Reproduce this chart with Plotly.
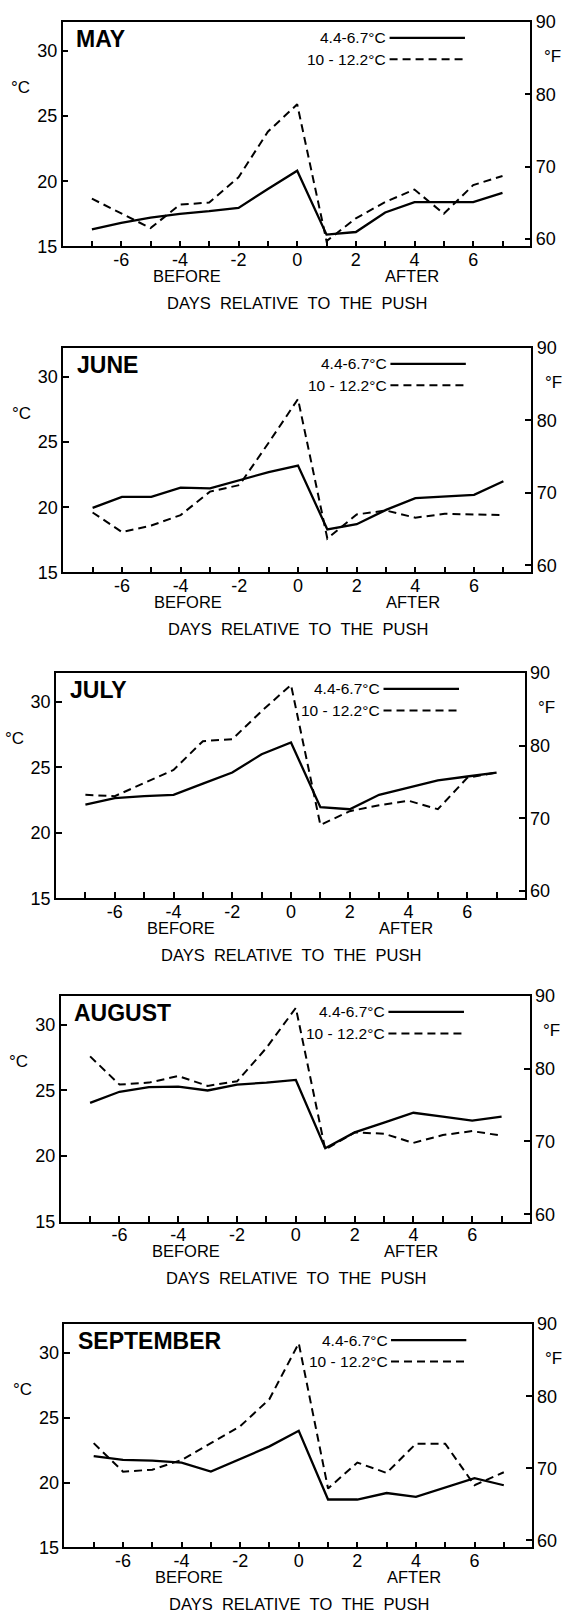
import plotly.graph_objects as go

# ---------------- data ----------------
DAYS = list(range(-7, 8))
MONTHS = ["MAY", "JUNE", "JULY", "AUGUST", "SEPTEMBER"]

MAY_COLD = [16.3, 16.8, 17.2, 17.5, 17.7, 17.95, 19.4, 20.8, 15.9, 16.1, 17.6, 18.4, 18.4, 18.4, 19.1]
MAY_WARM = [18.66, 17.5, 16.4, 18.2, 18.36, 20.3, 23.8, 25.9, 15.4, 17.15, 18.4, 19.36, 17.5, 19.7, 20.4]

JUNE_COLD = [19.95, 20.8, 20.8, 21.5, 21.45, 22.1, 22.7, 23.2, 18.3, 18.7, 19.8, 20.7, 20.8, 20.95, 22.0]
JUNE_WARM = [19.6, 18.1, 18.6, 19.4, 21.2, 21.7, 24.95, 28.3, 17.6, 19.45, 19.75, 19.2, 19.5, 19.45, 19.4]

JULY_COLD = [22.15, 22.65, 22.8, 22.9, 23.75, 24.6, 26.0, 26.9, 21.95, 21.8, 22.9, 23.45, 24.0, 24.3, 24.6]
JULY_WARM = [22.9, 22.8, 23.8, 24.8, 27.0, 27.15, 29.3, 31.3, 20.6, 21.65, 22.1, 22.45, 21.8, 24.2, 24.6]

AUG_COLD = [24.05, 24.9, 25.25, 25.3, 25.0, 25.45, 25.6, 25.8, 20.6, 21.8, 22.55, 23.3, 23.0, 22.7, 23.0]
AUG_WARM = [27.6, 25.45, 25.6, 26.1, 25.35, 25.7, 28.25, 31.3, 20.5, 21.8, 21.7, 21.0, 21.6, 21.9, 21.55]

SEP_COLD = [22.05, 21.75, 21.7, 21.55, 20.85, 21.85, 22.8, 24.0, 18.7, 18.7, 19.2, 18.9, 19.65, 20.35, 19.8]
SEP_WARM = [23.05, 20.85, 21.0, 21.75, 23.05, 24.35, 26.45, 30.75, 19.55, 21.55, 20.75, 23.0, 23.0, 19.8, 20.8]

COLD = [MAY_COLD, JUNE_COLD, JULY_COLD, AUG_COLD, SEP_COLD]
WARM = [MAY_WARM, JUNE_WARM, JULY_WARM, AUG_WARM, SEP_WARM]

LEGEND_COLD = "4.4-6.7°C"
LEGEND_WARM = "10 - 12.2°C"

C_TICKS = [15, 20, 25, 30]
F_TICKS = [60, 70, 80, 90]
X_TICKS = [-6, -4, -2, 0, 2, 4, 6]
X_TICK_TEXT = ["-6", "-4", "-2", "0", "2", "4", "6"]
X_MINOR = [-7, -5, -3, -1, 1, 3, 5, 7]

# ---------------- layout constants (pixels) ----------------
W, H = 565, 1621
# (px of day -7, px of day 7, frame top px, frame bottom px)
FRAMES = [
    (91.9, 502.5, 12.0, 239.3),
    (92.6, 503.4, 342.0, 569.5),
    (85.4, 496.6, 671.0, 899.3),
    (90.1, 501.6, 998.0, 1226.7),
    (93.7, 503.8, 1330.5, 1556.7),
]
C_RANGE = [15, 32.23]
F_RANGE = [c * 1.8 + 32 for c in C_RANGE]
X_RANGE = [-8, 7.95]
FONT = "Liberation Sans"

fig = go.Figure()
layout = dict(
    width=W, height=H, margin=dict(l=0, r=0, t=0, b=0),
    paper_bgcolor="white", plot_bgcolor="white", showlegend=False,
    font=dict(family=FONT, color="black", size=18),
    hovermode=False,
)
annotations = []
shapes = []

for i, (xm7, x7, ytop, ybot) in enumerate(FRAMES):
    n = i + 1
    xn = "x" if n == 1 else f"x{n}"
    yl = "y" if n == 1 else f"y{n}"
    yr = f"y{n + 5}"
    ppd = (x7 - xm7) / 14.0
    xl_px = xm7 + (X_RANGE[0] + 7) * ppd
    xr_px = x7 + (X_RANGE[1] - 7) * ppd

    layout["xaxis" if n == 1 else f"xaxis{n}"] = dict(
        domain=[xl_px / W, xr_px / W], range=X_RANGE, anchor=yl,
        tickmode="array", tickvals=X_TICKS, ticktext=X_TICK_TEXT,
        ticks="inside", ticklen=6, ticklabelstandoff=-4,
        tickwidth=1.5, tickcolor="black", showline=True, linecolor="black",
        linewidth=1.6, mirror=True, showgrid=False, zeroline=False,
        tickfont=dict(size=18, family=FONT), fixedrange=True,
        minor=dict(tickmode="array", tickvals=X_MINOR, ticks="inside",
                   ticklen=6, tickwidth=1.5, tickcolor="black", showgrid=False),
    )
    layout["yaxis" if n == 1 else f"yaxis{n}"] = dict(
        domain=[1 - ybot / H, 1 - ytop / H], range=C_RANGE, anchor=xn,
        tickmode="array", tickvals=C_TICKS, ticks="inside", ticklen=6,
        tickwidth=1.5, tickcolor="black", showline=True, linecolor="black",
        linewidth=1.6, showgrid=False, zeroline=False,
        tickfont=dict(size=18, family=FONT), fixedrange=True,
    )
    layout[f"yaxis{n + 5}"] = dict(
        overlaying=yl, side="right", anchor=xn, range=F_RANGE,
        tickmode="array", tickvals=F_TICKS, ticks="inside", ticklen=6,
        tickwidth=1.5, tickcolor="black", showline=True, linecolor="black",
        linewidth=1.6, showgrid=False, zeroline=False,
        tickfont=dict(size=18, family=FONT), fixedrange=True,
    )

    fig.add_trace(go.Scatter(x=DAYS, y=COLD[i], mode="lines", xaxis=xn, yaxis=yl,
                             line=dict(color="black", width=2.3)))
    fig.add_trace(go.Scatter(x=DAYS, y=WARM[i], mode="lines", xaxis=xn, yaxis=yl,
                             line=dict(color="black", width=2, dash="8px,5px")))
    fig.add_trace(go.Scatter(x=[], y=[], mode="lines", xaxis=xn, yaxis=yr))

    # month title
    annotations.append(dict(text=MONTHS[i], x=-7.6, y=30.9, xref=xn, yref=yl,
                            xanchor="left", yanchor="middle", showarrow=False,
                            font=dict(size=23, family=FONT, weight="bold")))
    # unit labels
    annotations.append(dict(text="°C", x=(xl_px - 42) / W, y=27.2, xref="paper", yref=yl,
                            xanchor="center", yanchor="middle", showarrow=False,
                            font=dict(size=17, family=FONT)))
    annotations.append(dict(text="°F", x=(xr_px + 22) / W, y=85.2, xref="paper", yref=yr,
                            xanchor="center", yanchor="middle", showarrow=False,
                            font=dict(size=17, family=FONT)))
    # legend
    for txt, yv, dash in [(LEGEND_COLD, 31.0, "solid"), (LEGEND_WARM, 29.35, "8px,5px")]:
        annotations.append(dict(text=txt, x=3.1, y=yv, xref=xn, yref=yl,
                                xanchor="right", yanchor="middle", showarrow=False,
                                font=dict(size=15.5, family=FONT)))
        shapes.append(dict(type="line", xref=xn, yref=yl, x0=3.15, x1=5.72, y0=yv, y1=yv,
                           line=dict(color="black", width=2.2 if dash == "solid" else 2,
                                     dash=dash)))
    # below-axis texts
    annotations.append(dict(text="BEFORE", x=-3.75, y=1 - (ybot + 30) / H, xref=xn, yref="paper",
                            xanchor="center", yanchor="middle", showarrow=False,
                            font=dict(size=16.5, family=FONT)))
    annotations.append(dict(text="AFTER", x=3.93, y=1 - (ybot + 30) / H, xref=xn, yref="paper",
                            xanchor="center", yanchor="middle", showarrow=False,
                            font=dict(size=16.5, family=FONT)))
    sp = "\u00a0\u00a0"
    annotations.append(dict(text=sp.join(["DAYS", "RELATIVE", "TO", "THE", "PUSH"]),
                            x=0, y=1 - (ybot + 57) / H, xref=xn, yref="paper",
                            xanchor="center", yanchor="middle", showarrow=False,
                            font=dict(size=16.5, family=FONT)))

layout["annotations"] = annotations
layout["shapes"] = shapes
fig.update_layout(**layout)
fig.write_html("out.html", config={"displayModeBar": False},
               post_script="document.body.style.margin='0';document.body.style.padding='0';")
